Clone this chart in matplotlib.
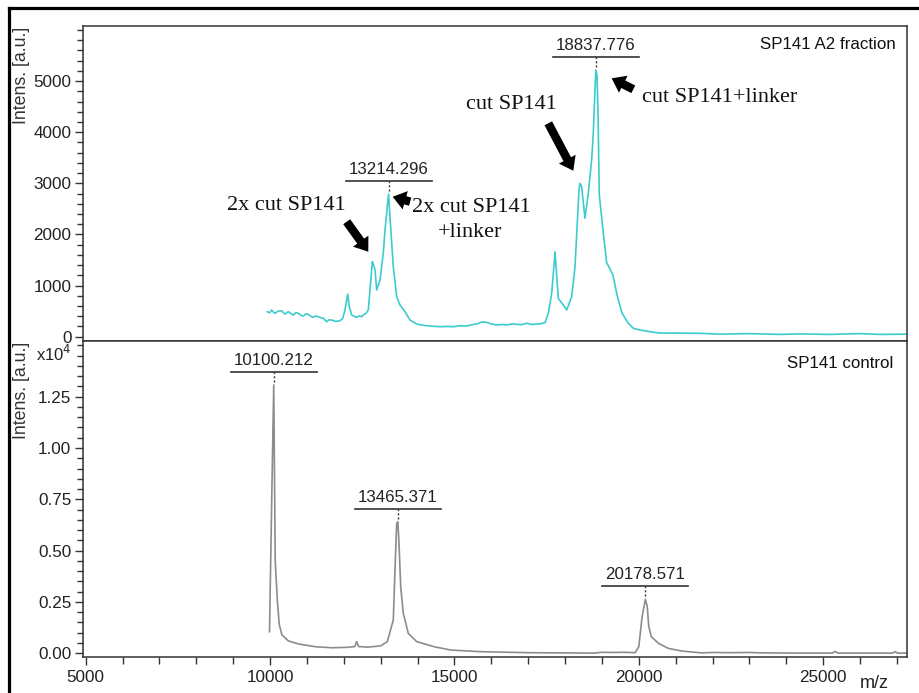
import matplotlib
matplotlib.use("Agg")
import matplotlib.pyplot as plt
import numpy as np
from matplotlib.ticker import FixedLocator, MultipleLocator, NullLocator
from matplotlib.lines import Line2D
from matplotlib.transforms import IdentityTransform

# ---------------- data ----------------
# Top spectrum: SP141 A2 fraction (m/z, intensity a.u.)
a2_mz = [9925, 9990, 10044, 10090, 10134, 10220, 10316, 10360, 10405, 10495,
         10560, 10630, 10700, 10766, 10830, 10901, 10970, 11037, 11100, 11173,
         11240, 11308, 11380, 11444, 11536, 11600, 11672, 11780, 11897, 11970,
         12032, 12105, 12149, 12214, 12280, 12349, 12420, 12485, 12540, 12602,
         12664, 12710, 12773, 12800, 12846, 12892, 12982, 13071, 13117, 13214,
         13252, 13342, 13434, 13524, 13659, 13795, 13977, 14100, 14248, 14400,
         14609, 14800, 14969, 15150, 15333, 15480, 15604, 15750, 15875, 16000,
         16146, 16300, 16417, 16560, 16689, 16820, 16960, 17100, 17231, 17350,
         17456, 17546, 17638, 17701, 17728, 17817, 17880, 17953, 18045, 18180,
         18270, 18332, 18378, 18405, 18451, 18541, 18630, 18722, 18766, 18812,
         18838, 18866, 18893, 18929, 19029, 19130, 19165, 19300, 19409, 19545,
         19708, 19851, 20033, 20304, 20575, 21100, 21660, 22202, 23015, 23829,
         24371, 25185, 25998, 26540, 27260]
a2_int = [489, 470, 522, 480, 457, 500, 509, 470, 444, 489,
          455, 424, 470, 457, 420, 405, 445, 438, 400, 379,
          405, 391, 370, 360, 293, 330, 326, 300, 313, 360,
          522, 835, 587, 424, 400, 379, 410, 391, 430, 457,
          522, 913, 1467, 1420, 1305, 913, 1109, 1637, 2087, 2790,
          2347, 1369, 782, 620, 489, 326, 248, 230, 215, 205,
          196, 200, 196, 215, 209, 235, 248, 290, 281, 250,
          229, 240, 229, 250, 242, 235, 262, 240, 248, 255,
          274, 457, 849, 1400, 1663, 751, 690, 620, 522, 782,
          1369, 2218, 2869, 3000, 2934, 2316, 2805, 3456, 3978, 4826,
          5216, 5118, 4434, 2772, 2087, 1436, 1402, 1207, 816, 464,
          268, 164, 131, 98, 72, 70, 66, 50, 60, 45,
          55, 45, 60, 45, 50]

# Bottom spectrum: SP141 control (m/z, intensity a.u.)
ctl_mz = [9985, 10050, 10100, 10140, 10200, 10250, 10320, 10500, 10780, 11230,
          11680, 12100, 12300, 12350, 12400, 12650, 13000, 13180, 13342, 13388,
          13434, 13465, 13497, 13543, 13613, 13749, 13977, 14450, 14900, 15700,
          17000, 18800, 19000, 19300, 19600, 19900, 20000, 20090, 20178, 20230,
          20270, 20340, 20530, 20800, 21170, 21700, 22000, 22500, 23000, 23370,
          24500, 25250, 25320, 25400, 26880, 26950, 27020, 27260]
ctl_int = [1050, 8000, 13070, 4500, 2500, 1400, 900, 600, 450, 320,
           270, 290, 330, 570, 330, 300, 360, 570, 1620, 4060,
           6330, 6410, 5360, 3240, 1950, 970, 570, 320, 160, 80,
           30, 10, 50, 40, 50, 30, 320, 1780, 2630, 2270,
           1300, 810, 490, 240, 110, 20, 40, 30, 40, 20,
           10, 10, 90, 10, 10, 80, 10, 10]

# labelled peaks
a2_peaks = [(13214.296, 2790), (18837.776, 5216)]
ctl_peaks = [(10100.212, 13070), (13465.371, 6410), (20178.571, 2630)]

top_yticks = [0, 1000, 2000, 3000, 4000, 5000]
bot_yticks = [0.0, 0.25, 0.50, 0.75, 1.00, 1.25]
x_ticks = [5000, 10000, 15000, 20000, 25000]

# ---------------- figure ----------------
W, H = 920, 693
fig = plt.figure(figsize=(W / 100, H / 100), dpi=100)
plt.rcParams['font.family'] = ['Liberation Sans', 'DejaVu Sans']


def fx(px):
    return px / W


def fy(py):
    return 1 - py / H


L, R = 83.3, 907.0
ax1 = fig.add_axes([fx(L), fy(341), fx(R) - fx(L), fy(26) - fy(341)])
ax2 = fig.add_axes([fx(L), fy(657.3), fx(R) - fx(L), fy(341) - fy(657.3)])

cyan = '#3dcccc'
gray = '#8c8c8c'
spine_c = '#333333'
txt_c = '#222222'

ax1.plot(a2_mz, a2_int, color=cyan, lw=1.2)
ax2.plot(ctl_mz, np.array(ctl_int) / 1e4, color=gray, lw=1.2)

for ax in (ax1, ax2):
    ax.set_xlim(4935, 27274)
    for s in ax.spines.values():
        s.set_color(spine_c)
        s.set_linewidth(1.1)
    ax.tick_params(axis='y', which='major', direction='out', length=6, width=1,
                   color=spine_c, labelsize=12.3, labelcolor=txt_c, pad=2.5)
    ax.tick_params(axis='y', which='minor', direction='out', length=4.3, width=1,
                   color=spine_c)

ax1.set_ylim(-84, 6077)
ax1.yaxis.set_major_locator(FixedLocator(top_yticks))
ax1.yaxis.set_minor_locator(FixedLocator(list(range(200, 6001, 200))))
ax1.set_yticklabels([str(v) for v in top_yticks])
ax1.xaxis.set_major_locator(NullLocator())
ax1.xaxis.set_minor_locator(NullLocator())

ax2.set_ylim(-0.0195, 1.521)
ax2.yaxis.set_major_locator(FixedLocator(bot_yticks))
ax2.yaxis.set_minor_locator(FixedLocator([i * 0.05 for i in range(0, 31)]))
ax2.set_yticklabels([f"{v:.2f}" for v in bot_yticks])
ax2.xaxis.set_major_locator(FixedLocator(x_ticks))
ax2.xaxis.set_minor_locator(MultipleLocator(1000))
ax2.set_xticklabels([str(v) for v in x_ticks])
ax2.tick_params(axis='x', which='major', direction='out', length=6, width=1,
                color=spine_c, labelsize=12.3, labelcolor=txt_c, pad=3)
ax2.tick_params(axis='x', which='minor', direction='out', length=5, width=1,
                color=spine_c)


def peak_label(ax, mz, inten, text):
    x0, y0 = ax.transData.transform((mz, inten))
    bar_y = y0 + 13
    fig.add_artist(Line2D([x0 - 43, x0 + 43], [bar_y, bar_y], transform=IdentityTransform(),
                          color=spine_c, lw=1.2))
    fig.add_artist(Line2D([x0, x0], [y0 + 3, bar_y], transform=IdentityTransform(),
                          color=spine_c, lw=1.0, ls=(0, (1.5, 1.5))))
    fig.text(x0 / W, (bar_y + 11.5) / H, text, ha='center', va='center',
             fontsize=12.2, color=txt_c)


for mz, it in a2_peaks:
    peak_label(ax1, mz, it, f"{mz:.3f}")
for mz, it in ctl_peaks:
    peak_label(ax2, mz, it / 1e4, f"{mz:.3f}")

# panel titles
ax1.text(0.9863, 0.942, 'SP141 A2 fraction', transform=ax1.transAxes, ha='right',
         va='center', fontsize=12.2, color='#111111')
ax2.text(0.9835, 0.930, 'SP141 control', transform=ax2.transAxes, ha='right',
         va='center', fontsize=12.2, color='#111111')

# axis labels
fig.text(fx(21.5), fy(27), 'Intens. [a.u.]', rotation=90, ha='center', va='top',
         fontsize=12.8, color='#333333')
fig.text(fx(21.5), fy(342), 'Intens. [a.u.]', rotation=90, ha='center', va='top',
         fontsize=12.8, color='#333333')
fig.text(fx(36), fy(361), r'x10$^4$', ha='left', va='baseline', fontsize=12.0,
         color=txt_c)
fig.text(fx(874), fy(684), 'm/z', ha='center', va='center', fontsize=13,
         color=txt_c)

# annotations (serif)
serif = ['Liberation Serif', 'DejaVu Serif']
ann_kw = dict(fontsize=16, family=serif, color='#111111', va='center')
ax1.text(12057, 2560, '2x cut SP141', ha='right', **ann_kw)
ax1.text(13857, 2530, '2x cut SP141', ha='left', **ann_kw)
ax1.text(15422, 2040, '+linker', ha='center', **ann_kw)
ax1.text(17790, 4550, 'cut SP141', ha='right', **ann_kw)
ax1.text(20079, 4680, 'cut SP141+linker', ha='left', **ann_kw)

arrows = [((12078, 2249), (12664, 1663)),
          ((13800, 2641), (13326, 2738)),
          ((17546, 4174), (18224, 3247)),
          ((19851, 4839), (19265, 5054))]
for tail, tip in arrows:
    ax1.annotate('', xy=tip, xytext=tail,
                 arrowprops=dict(arrowstyle='simple,head_length=1.3,head_width=1.9,tail_width=0.85',
                                 fc='black', ec='none', lw=0, mutation_scale=7.2,
                                 shrinkA=0, shrinkB=0))

# outer frame (left and top edges)
fig.add_artist(Line2D([fx(9.5), fx(9.5)], [0, fy(8)], transform=fig.transFigure,
                      color='black', lw=2.3))
fig.add_artist(Line2D([fx(9.5), 1.0], [fy(8), fy(8)], transform=fig.transFigure,
                      color='black', lw=2.3))

fig.savefig('out.png', dpi=100)
